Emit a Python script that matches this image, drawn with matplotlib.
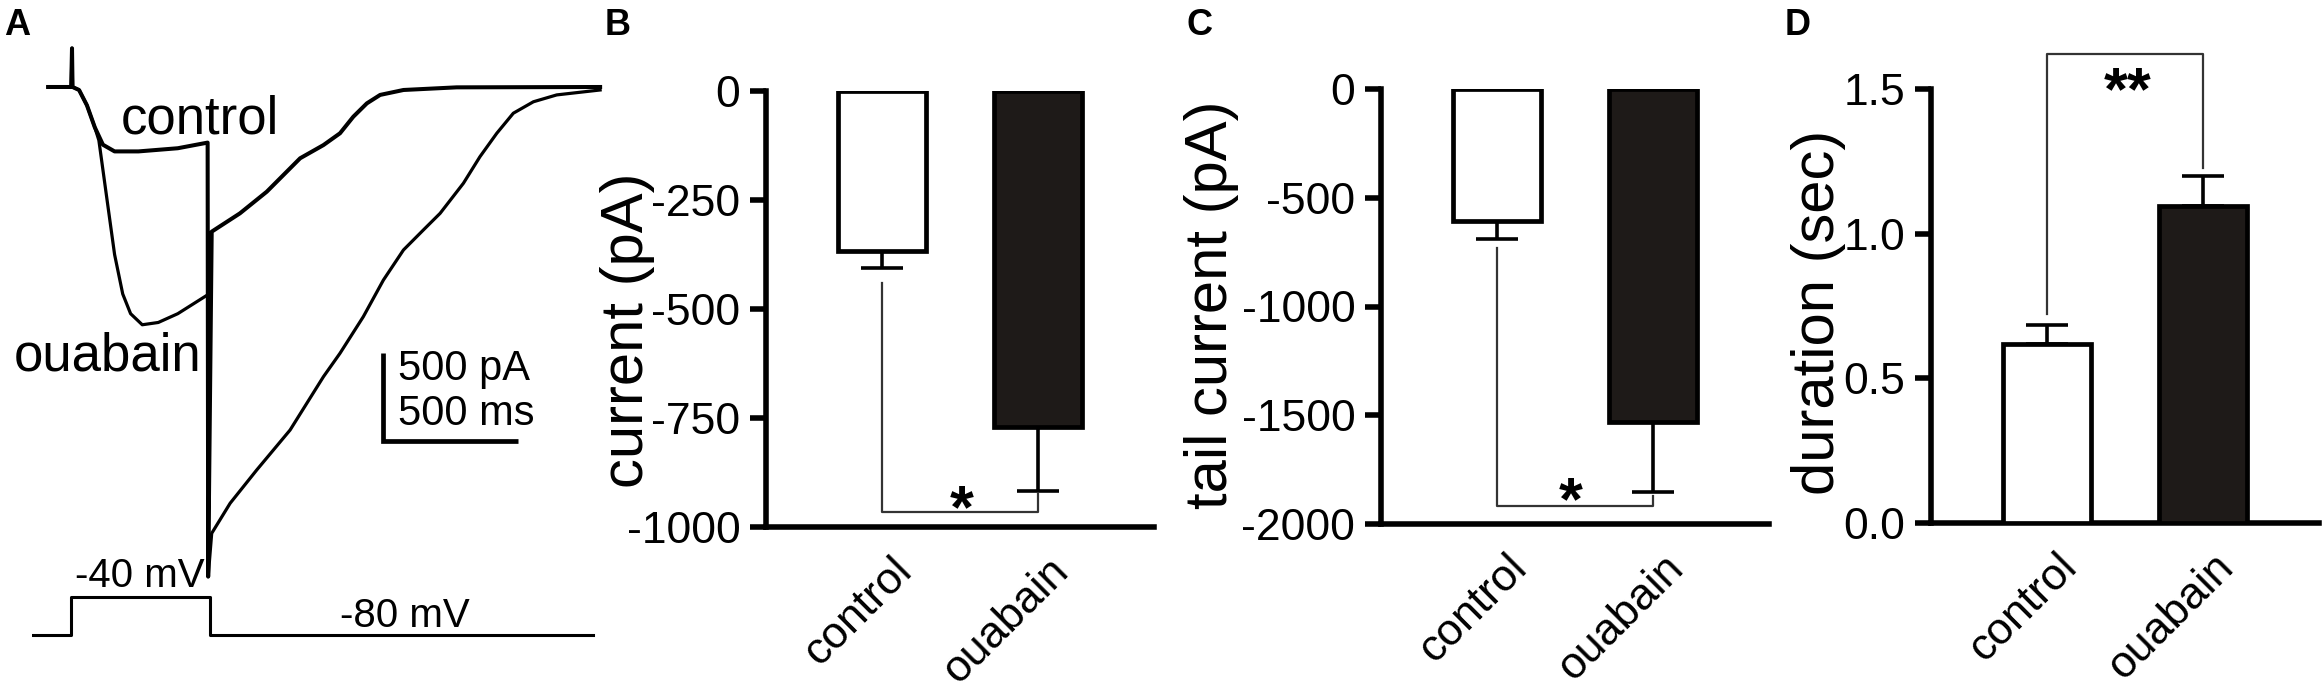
import numpy as np
import matplotlib.pyplot as plt
from matplotlib.transforms import ScaledTranslation

plt.rcParams['font.family'] = ['Liberation Sans', 'DejaVu Sans']

W, H, DPI = 2322, 688, 100

# --- panel A: example current traces (time in ms, current in pA) ---
control_t = [-85, 0, 3, 5, 29, 58, 87, 117, 160, 248, 393, 503, 505, 518, 622, 721,
             844, 930, 991, 1040, 1090, 1139, 1225, 1421, 1950]
control_i = [0, 0, 220, 0, -17, -104, -229, -328, -366, -366, -348, -316, -2782, -822,
             -718, -595, -405, -330, -263, -169, -93, -45, -17, -2, 0]
ouabain_t = [-85, 0, 3, 5, 29, 58, 87, 102, 131, 160, 190, 219, 262, 321, 393, 503, 505,
             518, 586, 684, 807, 930, 991, 1077, 1151, 1225, 1298, 1360, 1446, 1507,
             1569, 1630, 1704, 1790, 1950]
ouabain_i = [0, 0, 220, 0, -17, -104, -229, -303, -628, -952, -1176, -1288, -1351, -1338,
             -1288, -1181, -2782, -2536, -2365, -2176, -1949, -1646, -1513, -1305, -1097,
             -926, -813, -718, -547, -396, -263, -149, -84, -45, -17]

# voltage protocol
hold_mv, test_mv = -80, -40
step_on, step_off = 0, 510
protocol_start, protocol_end = -143, 1924
scale_pa, scale_ms = 500, 500

# --- panels B-D: means and SEM ---
groups = ['control', 'ouabain']
peak_mean = [-367, -770]
peak_sem = [40, 147]
tail_mean = [-605, -1532]
tail_sem = [85, 321]
dur_mean = [0.618, 1.095]
dur_sem = [0.065, 0.105]

fig = plt.figure(figsize=(W / DPI, H / DPI), dpi=DPI)


def px_axes(l, t, r, b):
    return fig.add_axes([l / W, 1 - b / H, (r - l) / W, (b - t) / H])


# panel A
axA = px_axes(32, 40, 605, 590)
axA.set_xlim(-144.5, 1968)
axA.set_ylim(-2858, 267)
axA.axis('off')
axA.plot(control_t, control_i, color='black', lw=2.9, solid_joinstyle='round')
axA.plot(ouabain_t, ouabain_i, color='black', lw=2.3, solid_joinstyle='round')
sb_t, sb_i = 1148.6, -2010
axA.plot([sb_t, sb_t, sb_t + scale_ms], [sb_i + scale_pa, sb_i, sb_i],
         color='black', lw=3.4, solid_capstyle='butt', solid_joinstyle='miter')
axA.text(1205, -1665, '%d pA' % scale_pa, fontsize=30, va='baseline')
axA.text(1205, -1920, '%d ms' % scale_ms, fontsize=30, va='baseline')
axA.text(182, -266, 'control', fontsize=38, va='baseline')
axA.text(-212, -1612, 'ouabain', fontsize=38, va='baseline')

axV = px_axes(32, 575, 605, 650)
axV.set_xlim(-144.5, 1968)
axV.set_ylim(-95.7, -17.2)
axV.axis('off')
axV.patch.set_alpha(0)
prot_t = [protocol_start, step_on, step_on, step_off, step_off, protocol_end]
prot_v = [hold_mv, hold_mv, test_mv, test_mv, hold_mv, hold_mv]
axV.plot(prot_t, prot_v, color='black', lw=2.2)
axV.text(14, -29.7, '%d mV' % test_mv, fontsize=29, va='baseline')
axV.text(991, -71.2, '%d mV' % hold_mv, fontsize=29, va='baseline')


def bar_panel(ax, means, sems, ylim, yticks, yticklabels, ylabel, label_xy,
              bracket, star, star_xy):
    x = np.arange(len(groups))
    means = np.array(means, dtype=float)
    sems = np.array(sems, dtype=float)
    ax.bar(x, means, width=0.56, color=['white', '#1e1a18'], edgecolor='black',
           linewidth=3.4, zorder=3)
    lower = np.where(means < 0, sems, 0)
    upper = np.where(means > 0, sems, 0)
    ax.errorbar(x, means, yerr=[lower, upper], fmt='none', ecolor='black',
                elinewidth=2.6, capsize=15, capthick=2.6, zorder=2)
    ends = means + np.sign(means) * sems
    level, gap_l, gap_r = bracket
    ax.plot([0, 0, 1, 1], [ends[0] + gap_l, level, level, ends[1] + gap_r],
            color='#333333', lw=1.6, clip_on=False, zorder=1)
    ax.text(star_xy[0], star_xy[1], star, fontsize=44, fontweight='bold',
            ha='center', va='center')

    ax.set_xlim(-0.74, 1.74)
    ax.set_ylim(*ylim)
    ax.set_yticks(yticks)
    ax.set_yticklabels(yticklabels)
    ax.set_xticks(x)
    ax.set_xticklabels(groups)
    for s in ['top', 'right']:
        ax.spines[s].set_visible(False)
    for s in ['left', 'bottom']:
        ax.spines[s].set_linewidth(4)
    ax.tick_params(axis='y', direction='out', length=11.5, width=4,
                   labelsize=32, pad=7)
    ax.tick_params(axis='x', length=0, labelsize=32, pad=27)
    shift = ScaledTranslation(0.24, 0, fig.dpi_scale_trans)
    for lab in ax.get_xticklabels():
        lab.set_rotation(45)
        lab.set_ha('right')
        lab.set_va('center')
        lab.set_rotation_mode('anchor')
        lab.set_transform(lab.get_transform() + shift)
    ax.text(label_xy[0], label_xy[1], ylabel, transform=ax.transAxes,
            rotation=90, ha='center', va='center', fontsize=43)


axB = px_axes(766, 91, 1154, 527)
bar_panel(axB, peak_mean, peak_sem, (-1000, 0), [0, -250, -500, -750, -1000],
          ['0', '-250', '-500', '-750', '-1000'], 'current (pA)', (-0.356, 0.452),
          (-965, -33, -8), '*', (0.51, -964))

axC = px_axes(1381, 89, 1769, 524)
bar_panel(axC, tail_mean, tail_sem, (-2000, 0), [0, -500, -1000, -1500, -2000],
          ['0', '-500', '-1000', '-1500', '-2000'], 'tail current (pA)',
          (-0.436, 0.503), (-1919, -40, -16), '*', (0.47, -1907))

axD = px_axes(1931, 89, 2319, 523)
bar_panel(axD, dur_mean, dur_sem, (0, 1.5), [0, 0.5, 1.0, 1.5],
          ['0.0', '0.5', '1.0', '1.5'], 'duration (sec)', (-0.289, 0.486),
          (1.621, 0.041, 0.027), '**', (0.52, 1.483))

for letter, xp in zip('ABCD', [4, 605, 1187, 1785]):
    fig.text(xp / W, 1 - 35 / H, letter, fontsize=26, fontweight='bold',
             va='baseline', ha='left')

fig.savefig('out.png', dpi=DPI, facecolor='white')
